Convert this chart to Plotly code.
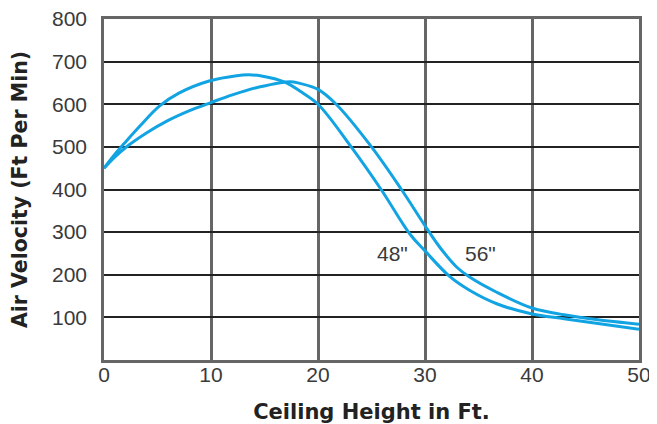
#!/usr/bin/env python3

import plotly.graph_objects as go

# ceiling height (ft) vs air velocity (ft per min)
height_48 = [0, 1, 2, 3.4, 5.2, 7, 9.9, 12.4, 13.5, 14.6, 17, 18.3, 20, 23.1, 25.9, 28.6, 30,
             32.3, 34.2, 36.7, 40, 43, 46, 50]
velocity_48 = [450, 482, 511, 550, 596, 626, 655, 667, 669, 667, 651, 631, 600, 500, 400, 295, 256,
               196, 163, 132, 108, 97, 86, 72]

height_56 = [0, 1, 2, 4, 6, 8, 10, 12, 14.6, 17.4, 18.3, 20, 21.7, 25, 27.8, 30, 31.4,
             33, 34.2, 36.7, 40, 43, 46, 50]
velocity_56 = [450, 476, 498, 533, 562, 585, 604, 622, 641, 653, 649, 635, 600, 500, 400, 315, 264,
               217, 194, 159, 122, 106, 95, 84]

x_ticks = [0, 10, 20, 30, 40, 50]
y_ticks = [100, 200, 300, 400, 500, 600, 700, 800]

labels = ['48"', '56"']
label_x = [27.0, 35.2]
label_y = [250, 250]

line_color = '#12a4e2'
tick_font = dict(family='Liberation Sans, Arial, sans-serif', size=21, color='#3a3a3a')
title_font = dict(family='DejaVu Sans, sans-serif', size=20, color='#222222', weight='bold')

fig = go.Figure()
for xs, ys, name in [(height_48, velocity_48, labels[0]), (height_56, velocity_56, labels[1])]:
    fig.add_trace(go.Scatter(x=xs, y=ys, name=name, mode='lines',
                             line=dict(color=line_color, width=3, shape='spline', smoothing=1)))

for txt, lx, ly in zip(labels, label_x, label_y):
    fig.add_annotation(x=lx, y=ly, text=txt, showarrow=False, font=tick_font)

# page body keeps its default 8px margin, so the figure is 8px smaller than the window
fig.update_layout(
    width=649, height=416,
    margin=dict(l=96, r=18, t=11, b=64),
    paper_bgcolor='white', plot_bgcolor='white',
    showlegend=False,
)
fig.update_xaxes(
    range=[0, 50], tickvals=x_ticks, showgrid=True, gridcolor='#666666', gridwidth=2.5,
    showline=True, linecolor='#666666', linewidth=2.5, mirror=True, automargin=False,
    zeroline=False, ticks='', tickfont=tick_font, ticklabelstandoff=-6,
    ticklabeloverflow='allow',
    title=dict(text='Ceiling Height in Ft.', font=dict(title_font, size=21), standoff=22),
)
fig.update_yaxes(
    range=[0, 800], tickvals=y_ticks, showgrid=True, gridcolor='#222222', gridwidth=1.5,
    showline=True, linecolor='#666666', linewidth=2.5, mirror=True, automargin=False,
    zeroline=False, ticks='', tickfont=tick_font, ticklabelstandoff=10,
    ticklabeloverflow='allow',
    title=dict(text='Air Velocity (Ft Per Min)', font=dict(title_font, size=20.5), standoff=19),
)

fig.write_html('out.html')
